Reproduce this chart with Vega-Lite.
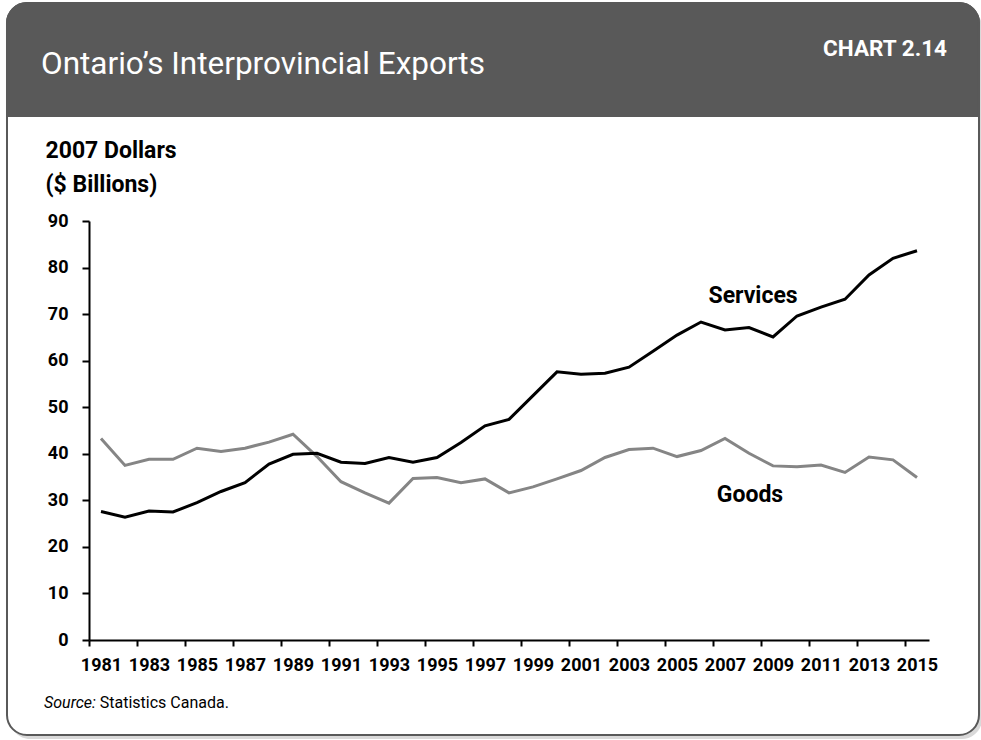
{
  "$schema": "https://vega.github.io/schema/vega-lite/v6.json",
  "width": 840,
  "height": 419,
  "autosize": {"type": "none"},
  "padding": {"left": 89, "top": 221, "right": 52, "bottom": 100},
  "background": "#ffffff",
  "config": {
    "font": "Roboto",
    "view": {"stroke": null}
  },
  "layer": [
    {
      "data": {"values": [{}]},
      "mark": {"type": "rect", "clip": false, "fill": "#d9d9d9", "cornerRadius": 20},
      "encoding": {
        "x": {"datum": 1977.2083, "type": "quantitative", "scale": {"domain": [1980.5, 2015.5], "nice": false, "zero": false}},
        "x2": {"datum": 2017.7083},
        "y": {"datum": 135.97, "type": "quantitative", "scale": {"domain": [0, 90], "nice": false, "zero": false}},
        "y2": {"datum": -21.26}
      }
    },
    {
      "data": {"values": [{}]},
      "mark": {"type": "rect", "clip": false, "fill": "#ffffff", "stroke": "#595959", "strokeWidth": 2, "cornerRadius": 20},
      "encoding": {
        "x": {"datum": 1977.0833, "type": "quantitative", "scale": {"domain": [1980.5, 2015.5], "nice": false, "zero": false}},
        "x2": {"datum": 2017.5833},
        "y": {"datum": 136.83, "type": "quantitative", "scale": {"domain": [0, 90], "nice": false, "zero": false}},
        "y2": {"datum": -20.41}
      }
    },
    {
      "data": {"values": [{}]},
      "mark": {"type": "rect", "clip": false, "fill": "#595959", "stroke": "#595959", "strokeWidth": 2, "cornerRadiusTopLeft": 20, "cornerRadiusTopRight": 20},
      "encoding": {
        "x": {"datum": 1977.0833, "type": "quantitative", "scale": {"domain": [1980.5, 2015.5], "nice": false, "zero": false}},
        "x2": {"datum": 2017.5833},
        "y": {"datum": 136.83, "type": "quantitative", "scale": {"domain": [0, 90], "nice": false, "zero": false}},
        "y2": {"datum": 112.55}
      }
    },
    {
      "data": {"values": [{}]},
      "mark": {"type": "text", "clip": false, "align": "left", "baseline": "alphabetic", "fontSize": 31.5, "color": "#ffffff", "text": "Ontario’s Interprovincial Exports"},
      "encoding": {
        "x": {"datum": 1978.5, "type": "quantitative", "scale": {"domain": [1980.5, 2015.5], "nice": false, "zero": false}},
        "y": {"datum": 121.5, "type": "quantitative", "scale": {"domain": [0, 90], "nice": false, "zero": false}}
      }
    },
    {
      "data": {"values": [{}]},
      "mark": {"type": "text", "clip": false, "align": "right", "baseline": "alphabetic", "fontSize": 22.5, "fontWeight": "bold", "color": "#ffffff", "text": "CHART 2.14"},
      "encoding": {
        "x": {"datum": 2016.25, "type": "quantitative", "scale": {"domain": [1980.5, 2015.5], "nice": false, "zero": false}},
        "y": {"datum": 125.5, "type": "quantitative", "scale": {"domain": [0, 90], "nice": false, "zero": false}}
      }
    },
    {
      "data": {
        "values": [
          {"year": 1981, "series": "Goods", "value": 43.3},
          {"year": 1982, "series": "Goods", "value": 37.5},
          {"year": 1983, "series": "Goods", "value": 38.8},
          {"year": 1984, "series": "Goods", "value": 38.8},
          {"year": 1985, "series": "Goods", "value": 41.2},
          {"year": 1986, "series": "Goods", "value": 40.5},
          {"year": 1987, "series": "Goods", "value": 41.2},
          {"year": 1988, "series": "Goods", "value": 42.5},
          {"year": 1989, "series": "Goods", "value": 44.2},
          {"year": 1990, "series": "Goods", "value": 39.4},
          {"year": 1991, "series": "Goods", "value": 34.0},
          {"year": 1992, "series": "Goods", "value": 31.6},
          {"year": 1993, "series": "Goods", "value": 29.4},
          {"year": 1994, "series": "Goods", "value": 34.7},
          {"year": 1995, "series": "Goods", "value": 34.9},
          {"year": 1996, "series": "Goods", "value": 33.8},
          {"year": 1997, "series": "Goods", "value": 34.6},
          {"year": 1998, "series": "Goods", "value": 31.6},
          {"year": 1999, "series": "Goods", "value": 32.9},
          {"year": 2000, "series": "Goods", "value": 34.6},
          {"year": 2001, "series": "Goods", "value": 36.4},
          {"year": 2002, "series": "Goods", "value": 39.2},
          {"year": 2003, "series": "Goods", "value": 40.9},
          {"year": 2004, "series": "Goods", "value": 41.2},
          {"year": 2005, "series": "Goods", "value": 39.4},
          {"year": 2006, "series": "Goods", "value": 40.7},
          {"year": 2007, "series": "Goods", "value": 43.3},
          {"year": 2008, "series": "Goods", "value": 40.1},
          {"year": 2009, "series": "Goods", "value": 37.4},
          {"year": 2010, "series": "Goods", "value": 37.2},
          {"year": 2011, "series": "Goods", "value": 37.6},
          {"year": 2012, "series": "Goods", "value": 36.0},
          {"year": 2013, "series": "Goods", "value": 39.3},
          {"year": 2014, "series": "Goods", "value": 38.7},
          {"year": 2015, "series": "Goods", "value": 34.9},
          {"year": 1981, "series": "Services", "value": 27.6},
          {"year": 1982, "series": "Services", "value": 26.4},
          {"year": 1983, "series": "Services", "value": 27.7},
          {"year": 1984, "series": "Services", "value": 27.5},
          {"year": 1985, "series": "Services", "value": 29.5},
          {"year": 1986, "series": "Services", "value": 31.9},
          {"year": 1987, "series": "Services", "value": 33.8},
          {"year": 1988, "series": "Services", "value": 37.8},
          {"year": 1989, "series": "Services", "value": 39.9},
          {"year": 1990, "series": "Services", "value": 40.1},
          {"year": 1991, "series": "Services", "value": 38.2},
          {"year": 1992, "series": "Services", "value": 37.9},
          {"year": 1993, "series": "Services", "value": 39.2},
          {"year": 1994, "series": "Services", "value": 38.2},
          {"year": 1995, "series": "Services", "value": 39.2},
          {"year": 1996, "series": "Services", "value": 42.4},
          {"year": 1997, "series": "Services", "value": 46.0},
          {"year": 1998, "series": "Services", "value": 47.4},
          {"year": 1999, "series": "Services", "value": 52.5},
          {"year": 2000, "series": "Services", "value": 57.6},
          {"year": 2001, "series": "Services", "value": 57.1},
          {"year": 2002, "series": "Services", "value": 57.3},
          {"year": 2003, "series": "Services", "value": 58.6},
          {"year": 2004, "series": "Services", "value": 62.0},
          {"year": 2005, "series": "Services", "value": 65.5},
          {"year": 2006, "series": "Services", "value": 68.3},
          {"year": 2007, "series": "Services", "value": 66.6},
          {"year": 2008, "series": "Services", "value": 67.1},
          {"year": 2009, "series": "Services", "value": 65.1},
          {"year": 2010, "series": "Services", "value": 69.6},
          {"year": 2011, "series": "Services", "value": 71.5},
          {"year": 2012, "series": "Services", "value": 73.2},
          {"year": 2013, "series": "Services", "value": 78.4},
          {"year": 2014, "series": "Services", "value": 82.0},
          {"year": 2015, "series": "Services", "value": 83.6}
        ]
      },
      "mark": {"type": "line", "strokeWidth": 3},
      "encoding": {
        "x": {
          "field": "year",
          "type": "quantitative",
          "scale": {"domain": [1980.5, 2015.5], "nice": false, "zero": false},
          "axis": {
            "title": null,
            "zindex": 1,
            "values": [1980.5, 1981.5, 1982.5, 1983.5, 1984.5, 1985.5, 1986.5, 1987.5, 1988.5, 1989.5, 1990.5, 1991.5, 1992.5, 1993.5, 1994.5, 1995.5, 1996.5, 1997.5, 1998.5, 1999.5, 2000.5, 2001.5, 2002.5, 2003.5, 2004.5, 2005.5, 2006.5, 2007.5, 2008.5, 2009.5, 2010.5, 2011.5, 2012.5, 2013.5, 2014.5, 2015.5],
            "labelExpr": "(datum.value - 1980.5) % 2 == 0 ? format(datum.value + 0.5, 'd') : ''",
            "labelOffset": 12,
            "labelOverlap": false,
            "labelFlush": false,
            "labelBound": false,
            "labelFontSize": 18,
            "labelFontWeight": "bold",
            "labelColor": "#000000",
            "labelPadding": 10,
            "domainColor": "#000000",
            "domainWidth": 2,
            "tickColor": "#000000",
            "tickWidth": 2,
            "tickSize": 6,
            "grid": false
          }
        },
        "y": {
          "field": "value",
          "type": "quantitative",
          "scale": {"domain": [0, 90], "nice": false, "zero": false},
          "axis": {
            "zindex": 1,
            "values": [0, 10, 20, 30, 40, 50, 60, 70, 80, 90],
            "title": ["2007 Dollars", "($ Billions)"],
            "titleAngle": 0,
            "titleAlign": "left",
            "titleBaseline": "alphabetic",
            "titleX": -44,
            "titleY": -64,
            "titleFontSize": 23,
            "titleFontWeight": "bold",
            "titleColor": "#000000",
            "titleLineHeight": 34,
            "labelFontSize": 18,
            "labelFontWeight": "bold",
            "labelColor": "#000000",
            "labelPadding": 14,
            "domainColor": "#000000",
            "domainWidth": 2,
            "tickColor": "#000000",
            "tickWidth": 2,
            "tickSize": 7,
            "grid": false
          }
        },
        "color": {
          "field": "series",
          "type": "nominal",
          "scale": {"domain": ["Goods", "Services"], "range": ["#858585", "#000000"]},
          "legend": null
        }
      }
    },
    {
      "data": {"values": [{}]},
      "mark": {"type": "text", "clip": false, "align": "center", "baseline": "alphabetic", "fontSize": 23, "fontWeight": "bold", "color": "#000000", "text": "Services"},
      "encoding": {
        "x": {"datum": 2008.17, "type": "quantitative", "scale": {"domain": [1980.5, 2015.5], "nice": false, "zero": false}},
        "y": {"datum": 72.45, "type": "quantitative", "scale": {"domain": [0, 90], "nice": false, "zero": false}}
      }
    },
    {
      "data": {"values": [{}]},
      "mark": {"type": "text", "clip": false, "align": "center", "baseline": "alphabetic", "fontSize": 23, "fontWeight": "bold", "color": "#000000", "text": "Goods"},
      "encoding": {
        "x": {"datum": 2008.04, "type": "quantitative", "scale": {"domain": [1980.5, 2015.5], "nice": false, "zero": false}},
        "y": {"datum": 29.64, "type": "quantitative", "scale": {"domain": [0, 90], "nice": false, "zero": false}}
      }
    },
    {
      "data": {"values": [{}]},
      "mark": {"type": "text", "clip": false, "align": "left", "baseline": "alphabetic", "fontSize": 16, "fontStyle": "italic", "color": "#000000", "text": "Source:"},
      "encoding": {
        "x": {"datum": 1978.625, "type": "quantitative", "scale": {"domain": [1980.5, 2015.5], "nice": false, "zero": false}},
        "y": {"datum": -14.69, "type": "quantitative", "scale": {"domain": [0, 90], "nice": false, "zero": false}}
      }
    },
    {
      "data": {"values": [{}]},
      "mark": {"type": "text", "clip": false, "align": "left", "baseline": "alphabetic", "fontSize": 16, "color": "#000000", "text": "Statistics Canada."},
      "encoding": {
        "x": {"datum": 1980.95, "type": "quantitative", "scale": {"domain": [1980.5, 2015.5], "nice": false, "zero": false}},
        "y": {"datum": -14.69, "type": "quantitative", "scale": {"domain": [0, 90], "nice": false, "zero": false}}
      }
    }
  ]
}
